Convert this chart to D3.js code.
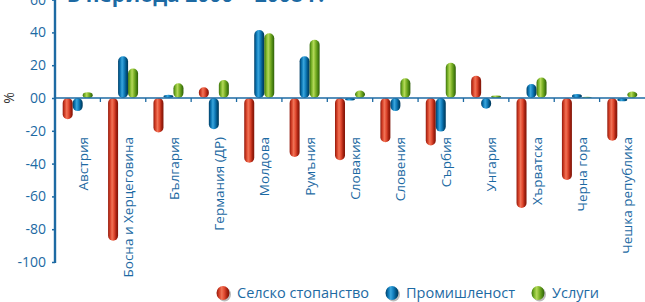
<!DOCTYPE html>
<html>
<head>
<meta charset="utf-8">
<script src="https://cdn.jsdelivr.net/npm/d3@7"></script>
<style>
  body { margin: 0; background: #fff; }
  svg { display: block; font-family: "Open Sans", "Noto Sans", sans-serif; }
</style>
</head>
<body>
<svg id="chart" width="645" height="302"></svg>
<script>
const countries = ['Австрия', 'Босна и Херцеговина', 'България', 'Германия (ДР)', 'Молдова', 'Румъния',
    'Словакия', 'Словения', 'Сърбия', 'Унгария', 'Хърватска', 'Черна гора', 'Чешка република'];
const agriculture = [-13, -87, -21, 6.5, -39.5, -36, -38, -27, -29, 13.5, -67, -50, -26];
const industry = [-8, 25.5, 2, -19, 41.5, 25.5, -1.5, -8, -20.5, -6.5, 8.5, 2.5, -2];
const services = [3.5, 18, 9, 11, 39.5, 35.5, 4.5, 12, 21.5, 1.5, 12.5, 0.8, 4];
const seriesNames = ['Селско стопанство', 'Промишленост', 'Услуги'];
const yTicks = [-100, -80, -60, -40, -20, 0, 20, 40, 60];

const textColor = '#1d6aa3';
const svg = d3.select('#chart');

// cylinder-like gradients
const defs = svg.append('defs');
const grads = [
    ['g-red', ['#921a0c', '#d8432a', '#f07457', '#e24a30', '#a3200f', '#7e1508']],
    ['g-blue', ['#003e66', '#0d78b6', '#3aa6dc', '#137fbe', '#00517f', '#003758']],
    ['g-green', ['#3c720c', '#80b92c', '#b4d85a', '#7fb428', '#4c8612', '#2f5e08']]
];
grads.forEach(([id, stops]) => {
    const g = defs.append('linearGradient').attr('id', id)
        .attr('x1', 0).attr('x2', 1).attr('y1', 0).attr('y2', 0);
    const offs = [0, 0.22, 0.4, 0.6, 0.82, 1];
    stops.forEach((c, i) => g.append('stop').attr('offset', offs[i]).attr('stop-color', c));
});
const fills = ['url(#g-red)', 'url(#g-blue)', 'url(#g-green)'];

const x0 = 55, x1 = 645;
const x = d3.scaleBand().domain(countries).range([x0, x1]);
const inner = d3.scaleBand().domain([0, 1, 2]).range([0, 30]);
const y = d3.scaleLinear().domain([-100, 60]).range([262, -0.4]);

// title (cut at top)
svg.append('text')
    .attr('x', 67).attr('y', 2)
    .attr('fill', textColor)
    .attr('font-size', 21).attr('font-weight', 'bold')
    .text('в периода 2000 – 2008 г.');

// y axis
const yAxis = svg.append('g').attr('transform', `translate(${x0},0)`)
    .call(d3.axisLeft(y).tickValues(yTicks).tickSize(3).tickPadding(6)
        .tickFormat(d => d === 0 ? '00' : d));
yAxis.select('.domain').remove();
yAxis.selectAll('line').attr('stroke', textColor).attr('stroke-width', 1.5);
yAxis.selectAll('text').attr('fill', textColor).attr('font-size', 14)
    .attr('font-family', '"Open Sans", sans-serif');
svg.append('line')
    .attr('x1', x0).attr('x2', x0).attr('y1', 0).attr('y2', y(-100) + 1)
    .attr('stroke', textColor).attr('stroke-width', 2.4);

svg.append('text')
    .attr('transform', `translate(14,${y(0)}) rotate(-90)`)
    .attr('text-anchor', 'middle')
    .attr('font-size', 14).attr('fill', '#333')
    .text('%');

// bars
const data = countries.flatMap((c, i) => [agriculture[i], industry[i], services[i]]
    .map((v, k) => ({ c, k, v })));

const bandPad = (x.bandwidth() - 30) / 2;
svg.append('g').selectAll('rect').data(data).join('rect')
    .attr('x', d => x(d.c) + bandPad + inner(d.k))
    .attr('width', inner.bandwidth())
    .attr('y', d => Math.min(y(d.v), y(0)))
    .attr('height', d => Math.abs(y(d.v) - y(0)))
    .attr('rx', 5)
    .attr('ry', d => Math.min(5, Math.abs(y(d.v) - y(0)) / 2))
    .attr('fill', d => fills[d.k]);

// zero line with ticks at category boundaries
svg.append('line')
    .attr('x1', x0).attr('x2', x1).attr('y1', y(0)).attr('y2', y(0))
    .attr('stroke', textColor).attr('stroke-width', 1.3);
svg.append('g').selectAll('line').data(countries.slice(1)).join('line')
    .attr('x1', d => x(d)).attr('x2', d => x(d))
    .attr('y1', y(0)).attr('y2', y(0) + 4)
    .attr('stroke', textColor).attr('stroke-width', 1.3);

// category labels
svg.append('g').selectAll('text').data(countries).join('text')
    .attr('transform', d => `translate(${x(d) + 28},137) rotate(-90)`)
    .attr('text-anchor', 'end')
    .attr('dy', '0.35em')
    .attr('font-size', 13.5)
    .attr('fill', textColor)
    .text(d => d);

// legend
const legendX = [223, 392, 538];
const legend = svg.append('g').selectAll('g').data(seriesNames).join('g')
    .attr('transform', (d, i) => `translate(${legendX[i]},293)`);
legend.append('ellipse').attr('cx', 1.5).attr('cy', 1.5).attr('rx', 6.5).attr('ry', 7)
    .attr('fill', '#bbb');
legend.append('ellipse').attr('rx', 6.5).attr('ry', 7)
    .attr('fill', (d, i) => fills[i]);
legend.append('text')
    .attr('x', 14).attr('dy', '0.35em')
    .attr('font-size', 14.5)
    .attr('fill', textColor)
    .text(d => d);
</script>
</body>
</html>
